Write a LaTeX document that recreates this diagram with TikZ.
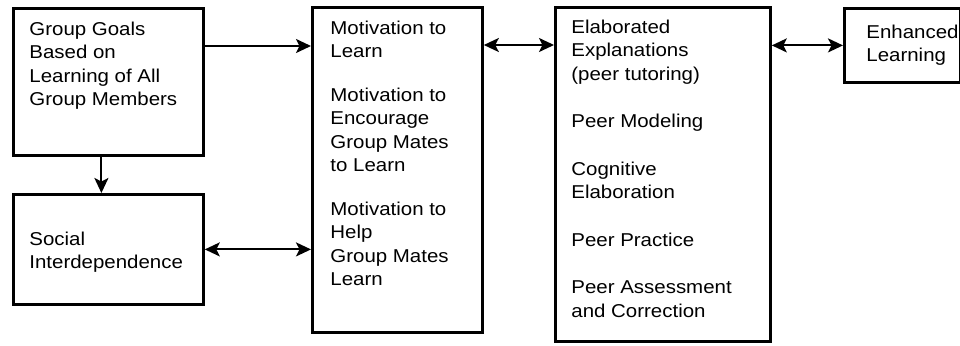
\documentclass[tikz,border=0pt]{standalone}
\usepackage{fontspec}
\setmainfont{Liberation Sans}[FakeStretch=1.1]
\usetikzlibrary{arrows.meta}

\newcommand{\boxtext}[4]{\parbox[c][#2][t]{#1}{\raggedright\rule{0pt}{#3}#4}}

\begin{document}
\begin{tikzpicture}[x=1pt, y=-1pt,
    box/.style={draw=black, line width=2.8pt, anchor=north west,
      inner ysep=0pt, inner xsep=16pt,
      font=\fontsize{18.6}{23.5}\selectfont},
    tip/.style={-{Stealth[length=15pt, width=14pt, inset=3.5pt]}},
    arr/.style={line width=2pt, tip},
    dbl/.style={line width=2pt,
      {Stealth[length=15pt, width=14pt, inset=3.5pt]}-{Stealth[length=15pt, width=14pt, inset=3.5pt]}}]
  \useasboundingbox (0,0) rectangle (960,345);

  \node[box] (goals) at (12,7)
    {\boxtext{158pt}{147pt}{27pt}{Group Goals\\ Based on\\ Learning of All\\ Group Members}};

  \node[box] (social) at (12,193)
    {\boxtext{158pt}{110pt}{51pt}{Social\\ Interdependence}};

  \node[box, inner xsep=18pt] (motiv) at (311,6)
    {\boxtext{134pt}{325pt}{27pt}{Motivation to\\ Learn\\[20pt]
      Motivation to\\ Encourage\\ Group Mates\\ to Learn\\[20pt]
      Motivation to\\ Help\\ Group Mates\\ Learn}};

  \node[box] (elab) at (554,6)
    {\boxtext{183pt}{334pt}{26pt}{Elaborated\\ Explanations\\ (peer tutoring)\\[24pt]
      Peer Modeling\\[24pt]
      Cognitive\\ Elaboration\\[24pt]
      Peer Practice\\[24pt]
      Peer Assessment\\ and Correction}};

  \node[box, inner xsep=22pt] (enh) at (843,7)
    {\boxtext{72pt}{74pt}{30pt}{Enhanced\\ Learning}};

  \draw [arr] ([yshift=-39pt]goals.north east) -- ([yshift=-39pt]goals.north east -| motiv.west);
  \draw [arr] ([xshift=-7pt]goals.south) -- ([xshift=-7pt]goals.south |- social.north);
  \draw [dbl] (social.east) -- (social.east -| motiv.west);
  \draw [dbl] ([yshift=-39pt]motiv.north east) -- ([yshift=-39pt]motiv.north east -| elab.west);
  \draw [dbl] (enh.west -| elab.east) -- (enh.west);
\end{tikzpicture}
\end{document}
